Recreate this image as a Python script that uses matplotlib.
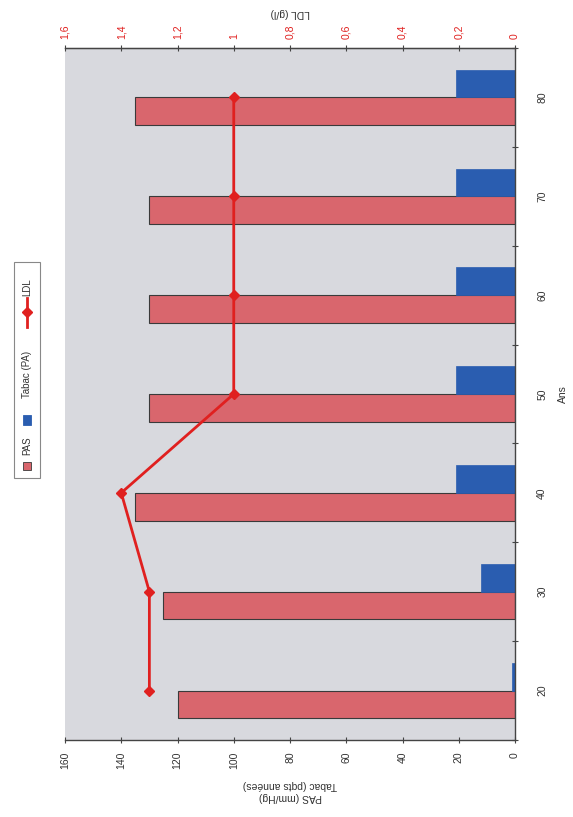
import matplotlib
matplotlib.use("Agg")
import matplotlib.pyplot as plt
from matplotlib.patches import Rectangle
from matplotlib.lines import Line2D
import numpy as np

plt.rcParams["font.family"] = ["Liberation Sans", "DejaVu Sans"]

ages = ["20", "30", "40", "50", "60", "70", "80"]
pas = [120, 125, 135, 130, 130, 130, 135]
tabac = [1, 12, 21, 21, 21, 21, 21]
ldl = [1.3, 1.3, 1.4, 1.0, 1.0, 1.0, 1.0]

left_ticks = [0, 20, 40, 60, 80, 100, 120, 140, 160]
ldl_ticks = [0, 0.2, 0.4, 0.6, 0.8, 1.0, 1.2, 1.4, 1.6]

red = "#d9666d"
blue = "#2a5db0"
line_red = "#e0201f"
text_col = "#333333"

W, H = 573, 817
fig = plt.figure(figsize=(W / 100, H / 100), dpi=100)
fig.patch.set_facecolor("white")


def fx(px):
    return px / W


def fy(py):
    return 1 - py / H


ax = fig.add_axes([fx(65), fy(740), fx(515) - fx(65), fy(48) - fy(740)])
ax.set_facecolor("#d8d9de")

pos = np.arange(len(ages))
bw = 0.28
ax.barh(pos - bw / 2, pas, height=bw, color=red, edgecolor="#3a3a3a", linewidth=0.8)
ax.barh(pos + bw / 2, tabac, height=bw, color=blue, edgecolor=blue, linewidth=0.5)

ax.set_xlim(160, 0)
ax.set_ylim(-0.5, len(ages) - 0.5)
ax.set_xticks(left_ticks)
ax.set_xticklabels([str(v) for v in left_ticks], rotation=90, fontsize=7.5, color=text_col)
ax.tick_params(axis="x", direction="inout", length=5, width=0.8, colors="#444444",
               labelcolor=text_col, pad=6)
ax.set_xlabel("PAS (mm/Hg)\nTabac (pqts années)", rotation=180, fontsize=7.5,
              color=text_col, labelpad=8, multialignment="center")

# category axis sits on the right, ticks between groups
ax.yaxis.tick_right()
ax.yaxis.set_label_position("right")
ax.set_yticks(np.arange(len(ages) + 1) - 0.5)
ax.set_yticklabels([])
ax.set_yticks(pos, minor=True)
ax.set_yticklabels(ages, minor=True, rotation=90, fontsize=7.5, color=text_col,
                   va="center")
ax.tick_params(axis="y", which="major", direction="inout", length=5, width=0.8,
               colors="#444444")
ax.tick_params(axis="y", which="minor", length=0, pad=16)
ax.set_ylabel("Ans", rotation=90, fontsize=7.5, color=text_col, labelpad=8)

for side in ["left"]:
    ax.spines[side].set_visible(False)
for side in ["right", "bottom"]:
    ax.spines[side].set_color("#444444")
    ax.spines[side].set_linewidth(1.0)

# LDL on the secondary axis along the top
ax2 = ax.twiny()
ax2.plot(ldl, pos, color=line_red, linewidth=2, marker="D", markersize=5,
         markerfacecolor=line_red, markeredgecolor=line_red)
ax2.set_xlim(1.6, 0)
ax2.set_xticks(ldl_ticks)
ax2.set_xticklabels([f"{v:g}".replace(".", ",") for v in ldl_ticks], rotation=90,
                    fontsize=7.5, color=line_red)
ax2.tick_params(axis="x", direction="inout", length=5, width=0.8, colors="#444444",
                labelcolor=line_red, pad=4)
ax2.set_xlabel("LDL (g/l)", rotation=180, fontsize=7.5, color=text_col, labelpad=6)
ax2.spines["top"].set_color("#444444")
ax2.spines["top"].set_linewidth(1.0)
ax2.spines["left"].set_visible(False)
ax2.spines["right"].set_visible(False)
ax2.spines["bottom"].set_visible(False)

# legend, stacked along the left edge
fig.add_artist(Rectangle((fx(14), fy(478)), fx(40) - fx(14), fy(262) - fy(478),
                         transform=fig.transFigure, facecolor="white",
                         edgecolor="#888888", linewidth=0.8))
fig.add_artist(Rectangle((fx(23), fy(470)), fx(31) - fx(23), fy(462) - fy(470),
                         transform=fig.transFigure, facecolor=red,
                         edgecolor="#3a3a3a", linewidth=0.6))
fig.text(fx(27), fy(455), "PAS", rotation=90, ha="center", va="bottom",
         fontsize=7, color=text_col)
fig.add_artist(Rectangle((fx(23), fy(425)), fx(31) - fx(23), fy(415) - fy(425),
                         transform=fig.transFigure, facecolor=blue,
                         edgecolor=blue, linewidth=0.6))
fig.text(fx(27), fy(398), "Tabac (PA)", rotation=90, ha="center", va="bottom",
         fontsize=7, color=text_col)
fig.add_artist(Line2D([fx(27), fx(27)], [fy(327), fy(298)], transform=fig.transFigure,
                      color=line_red, linewidth=2))
fig.add_artist(Line2D([fx(27)], [fy(312)], transform=fig.transFigure, marker="D",
                      markersize=5, color=line_red))
fig.text(fx(27), fy(296), "LDL", rotation=90, ha="center", va="bottom",
         fontsize=7, color=text_col)

fig.savefig("out.png", dpi=100)
